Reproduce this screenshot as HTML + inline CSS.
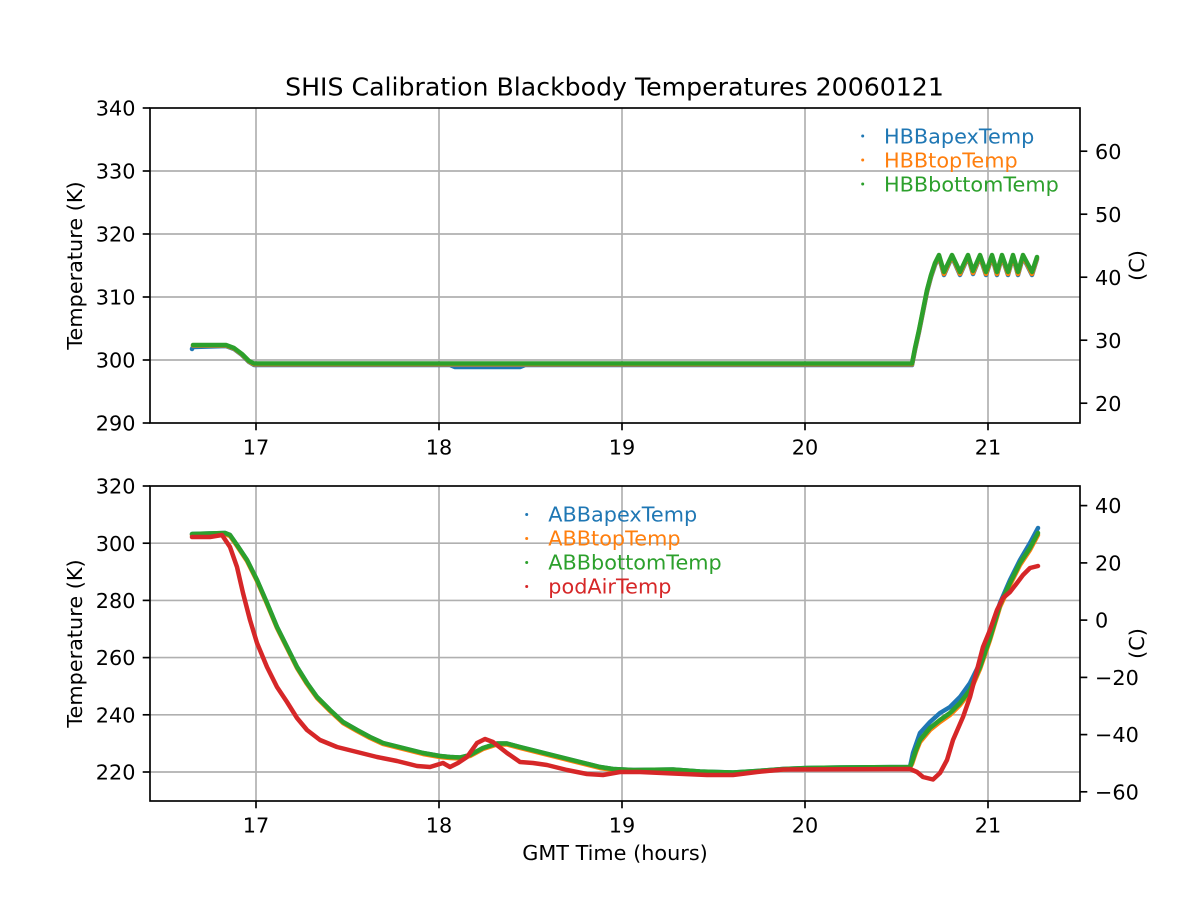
<!DOCTYPE html>
<html><head><meta charset="utf-8"><style>
html,body{margin:0;padding:0;background:#fff;}
svg{display:block;}
text{font-family:"DejaVu Sans","Liberation Sans",sans-serif;fill:#000;}
</style></head><body>
<svg width="1200" height="900" viewBox="0 0 1200 900" xmlns="http://www.w3.org/2000/svg">
<rect width="1200" height="900" fill="#fff"/>
<!-- ===== TOP AXES ===== -->
<g stroke="#b0b0b0" stroke-width="1.67" fill="none">
<line x1="256" y1="108" x2="256" y2="423"/><line x1="439" y1="108" x2="439" y2="423"/><line x1="622" y1="108" x2="622" y2="423"/><line x1="805" y1="108" x2="805" y2="423"/><line x1="988" y1="108" x2="988" y2="423"/>
<line x1="150" y1="171" x2="1080" y2="171"/><line x1="150" y1="234" x2="1080" y2="234"/><line x1="150" y1="297" x2="1080" y2="297"/><line x1="150" y1="360" x2="1080" y2="360"/>
</g>
<g fill="none" stroke-width="4.5" stroke-linejoin="round" stroke-linecap="round">
<polyline stroke="#1f77b4" points="192,349 193,347 226,346 234,349 242,355 249,362 254,365 450,365 455,367 520,367 525,365 912,365 915,350 919,332 923,312 927,292 931,277 935,265 939,257 944,275 952,257 960,275 968,257 973,274 980,257 986,275 992,257 997,275 1002,257 1008,275 1013,257 1018,275 1023,257 1032,275 1037,259"/>
<polyline stroke="#ff7f0e" points="193,345.5 226,345.5 234,348.5 242,354.5 249,361.5 254,364.3 912,364.3 915,349 919,331 923,311 927,291 931,276 935,264 939,256 944,274 952,256 960,274 968,256 973,273 980,256 986,274 992,256 997,274 1002,256 1008,274 1013,256 1018,274 1023,256 1032,274 1037,258"/>
<polyline stroke="#2ca02c" points="193,345 226,345 234,348 242,354 249,361 254,363.5 912,363.5 915,348 919,330 923,310 927,290 931,275 935,263 939,255 944,272 952,255 960,272 968,255 973,271 980,255 986,272 992,255 997,272 1002,255 1008,272 1013,255 1018,272 1023,255 1032,272 1037,257"/>
</g>
<!-- legend top -->
<circle cx="862.7" cy="136" r="1.5" fill="#1f77b4"/>
<circle cx="862.7" cy="160" r="1.5" fill="#ff7f0e"/>
<circle cx="862.7" cy="184" r="1.5" fill="#2ca02c"/>
<text x="884" y="143.5" font-size="20.8" style="fill:#1f77b4">HBBapexTemp</text>
<text x="884" y="167.5" font-size="20.8" style="fill:#ff7f0e">HBBtopTemp</text>
<text x="884" y="191.5" font-size="20.8" style="fill:#2ca02c">HBBbottomTemp</text>
<!-- frame and ticks top -->
<rect x="150" y="108" width="930" height="315" fill="none" stroke="#000" stroke-width="1.67"/>
<g stroke="#000" stroke-width="1.67">
<line x1="142.7" y1="108" x2="150" y2="108"/><line x1="142.7" y1="171" x2="150" y2="171"/><line x1="142.7" y1="234" x2="150" y2="234"/><line x1="142.7" y1="297" x2="150" y2="297"/><line x1="142.7" y1="360" x2="150" y2="360"/><line x1="142.7" y1="423" x2="150" y2="423"/>
<line x1="256" y1="423" x2="256" y2="430.3"/><line x1="439" y1="423" x2="439" y2="430.3"/><line x1="622" y1="423" x2="622" y2="430.3"/><line x1="805" y1="423" x2="805" y2="430.3"/><line x1="988" y1="423" x2="988" y2="430.3"/>
<line x1="1080" y1="403.2" x2="1087.3" y2="403.2"/><line x1="1080" y1="340.2" x2="1087.3" y2="340.2"/><line x1="1080" y1="277.2" x2="1087.3" y2="277.2"/><line x1="1080" y1="214.2" x2="1087.3" y2="214.2"/><line x1="1080" y1="151.2" x2="1087.3" y2="151.2"/>
</g>
<g font-size="20.8" text-anchor="end">
<text x="135.5" y="115.6">340</text><text x="135.5" y="178.6">330</text><text x="135.5" y="241.6">320</text><text x="135.5" y="304.6">310</text><text x="135.5" y="367.6">300</text><text x="135.5" y="430.6">290</text>
</g>
<g font-size="20.8">
<text x="1095" y="410.8">20</text><text x="1095" y="347.8">30</text><text x="1095" y="284.8">40</text><text x="1095" y="221.8">50</text><text x="1095" y="158.8">60</text>
</g>
<g font-size="20.8" text-anchor="middle">
<text x="256" y="454.5">17</text><text x="439" y="454.5">18</text><text x="622" y="454.5">19</text><text x="805" y="454.5">20</text><text x="988" y="454.5">21</text>
</g>
<text transform="translate(82,265.5) rotate(-90)" font-size="20.8" text-anchor="middle">Temperature (K)</text>
<text transform="translate(1144,265.5) rotate(-90)" font-size="20.8" text-anchor="middle">(C)</text>
<text x="614.5" y="95.5" font-size="25.2" text-anchor="middle">SHIS Calibration Blackbody Temperatures 20060121</text>

<!-- ===== BOTTOM AXES ===== -->
<g stroke="#b0b0b0" stroke-width="1.67" fill="none">
<line x1="256" y1="486" x2="256" y2="801"/><line x1="439" y1="486" x2="439" y2="801"/><line x1="622" y1="486" x2="622" y2="801"/><line x1="805" y1="486" x2="805" y2="801"/><line x1="988" y1="486" x2="988" y2="801"/>
<line x1="150" y1="543.2" x2="1080" y2="543.2"/><line x1="150" y1="600.4" x2="1080" y2="600.4"/><line x1="150" y1="657.6" x2="1080" y2="657.6"/><line x1="150" y1="714.8" x2="1080" y2="714.8"/><line x1="150" y1="772" x2="1080" y2="772"/>
</g>
<g fill="none" stroke-width="4.5" stroke-linejoin="round" stroke-linecap="round">
<polyline stroke="#1f77b4" points="192,534 225,533 230,535 237,545 247,560 257,580 267,603 277,627 287,647 297,667 307,683 317,697 330,710 343,722 357,730 370,737 383,743 403,748 423,753 440,756 450,757 460,757.5 470,755 483,748 497,743.5 507,743.5 520,747 540,752 560,757 580,762 600,767 613,769 633,770 673,769.5 700,771.5 733,772.5 757,771 783,769 807,768 840,767.5 910,767 913,753 920,733 930,722 940,713 950,707 960,697 970,683 980,663 990,637 1000,603 1010,580 1020,560 1030,543 1038,528"/>
<polyline stroke="#ff7f0e" points="192,535 225,534 230,536 237,546 247,561 257,581 267,604 277,628 287,648 297,668 307,684 317,698 330,711 343,723 357,731 370,738 383,744 403,749 423,754 440,757 450,758 460,758.5 470,756 483,749 497,744.5 507,744.5 520,748 540,753 560,758 580,763 600,768 613,770 633,771 673,770 700,772 733,773 757,771.5 783,769.5 807,768.5 840,768 910,767.5 912,764 916,752 920,742 930,730 940,722 950,715 960,705 970,692 980,669 990,640 1000,607 1010,585 1020,565 1030,550 1038,535"/>
<polyline stroke="#2ca02c" points="192,534 225,533 230,535 237,545 247,560 257,580 267,603 277,627 287,647 297,667 307,683 317,697 330,710 343,722 357,730 370,737 383,743 403,748 423,753 440,756 450,757 460,757.5 470,755 483,748 497,743.5 507,743.5 520,747 540,752 560,757 580,762 600,767 613,769 633,770 673,769.5 700,771.5 733,772.5 757,771 783,769 807,768 840,767.5 910,767 912,762 916,750 920,740 930,728 940,720 950,713 960,703 970,690 980,667 990,638 1000,605 1010,583 1020,563 1030,548 1038,533"/>
<polyline stroke="#d62728" points="192,537 210,537 222,535 230,547 237,567 243,593 250,620 257,643 267,667 277,687 287,702 297,718 307,730 320,740 337,747 357,752 377,757 397,761 417,766 430,767 443,763 450,767 458,763 467,757 477,743 485,739 493,742 507,753 520,762 533,763 547,765 567,770 587,774 603,775 620,772 640,772 673,773.5 707,775 733,775 757,772 783,769.5 910,769 917,772 923,777 933,779.5 940,773 947,760 953,740 963,717 970,697 977,670 983,647 990,630 997,610 1003,598 1010,592 1017,583 1023,575 1030,568 1038,566"/>
</g>
<!-- legend bottom -->
<circle cx="526.7" cy="514.5" r="1.5" fill="#1f77b4"/>
<circle cx="526.7" cy="538.5" r="1.5" fill="#ff7f0e"/>
<circle cx="526.7" cy="562.5" r="1.5" fill="#2ca02c"/>
<circle cx="526.7" cy="586.5" r="1.5" fill="#d62728"/>
<text x="548.3" y="521.5" font-size="20.8" style="fill:#1f77b4">ABBapexTemp</text>
<text x="548.3" y="545.5" font-size="20.8" style="fill:#ff7f0e">ABBtopTemp</text>
<text x="548.3" y="569.5" font-size="20.8" style="fill:#2ca02c">ABBbottomTemp</text>
<text x="548.3" y="593.5" font-size="20.8" style="fill:#d62728">podAirTemp</text>
<!-- frame and ticks bottom -->
<rect x="150" y="486" width="930" height="315" fill="none" stroke="#000" stroke-width="1.67"/>
<g stroke="#000" stroke-width="1.67">
<line x1="142.7" y1="486" x2="150" y2="486"/><line x1="142.7" y1="543.2" x2="150" y2="543.2"/><line x1="142.7" y1="600.4" x2="150" y2="600.4"/><line x1="142.7" y1="657.6" x2="150" y2="657.6"/><line x1="142.7" y1="714.8" x2="150" y2="714.8"/><line x1="142.7" y1="772" x2="150" y2="772"/>
<line x1="256" y1="801" x2="256" y2="808.3"/><line x1="439" y1="801" x2="439" y2="808.3"/><line x1="622" y1="801" x2="622" y2="808.3"/><line x1="805" y1="801" x2="805" y2="808.3"/><line x1="988" y1="801" x2="988" y2="808.3"/>
<line x1="1080" y1="505.6" x2="1087.3" y2="505.6"/><line x1="1080" y1="562.9" x2="1087.3" y2="562.9"/><line x1="1080" y1="620.1" x2="1087.3" y2="620.1"/><line x1="1080" y1="677.4" x2="1087.3" y2="677.4"/><line x1="1080" y1="734.6" x2="1087.3" y2="734.6"/><line x1="1080" y1="791.8" x2="1087.3" y2="791.8"/>
</g>
<g font-size="20.8" text-anchor="end">
<text x="135.5" y="493.6">320</text><text x="135.5" y="550.8">300</text><text x="135.5" y="608">280</text><text x="135.5" y="665.2">260</text><text x="135.5" y="722.4">240</text><text x="135.5" y="779.6">220</text>
</g>
<g font-size="20.8">
<text x="1095" y="513.2">40</text><text x="1095" y="570.5">20</text><text x="1095" y="627.7">0</text><text x="1095" y="685">−20</text><text x="1095" y="742.2">−40</text><text x="1095" y="799.4">−60</text>
</g>
<g font-size="20.8" text-anchor="middle">
<text x="256" y="832.5">17</text><text x="439" y="832.5">18</text><text x="622" y="832.5">19</text><text x="805" y="832.5">20</text><text x="988" y="832.5">21</text>
</g>
<text transform="translate(82,643.5) rotate(-90)" font-size="20.8" text-anchor="middle">Temperature (K)</text>
<text transform="translate(1144,643.5) rotate(-90)" font-size="20.8" text-anchor="middle">(C)</text>
<text x="615" y="860" font-size="20.8" text-anchor="middle">GMT Time (hours)</text>
</svg>
</body></html>
